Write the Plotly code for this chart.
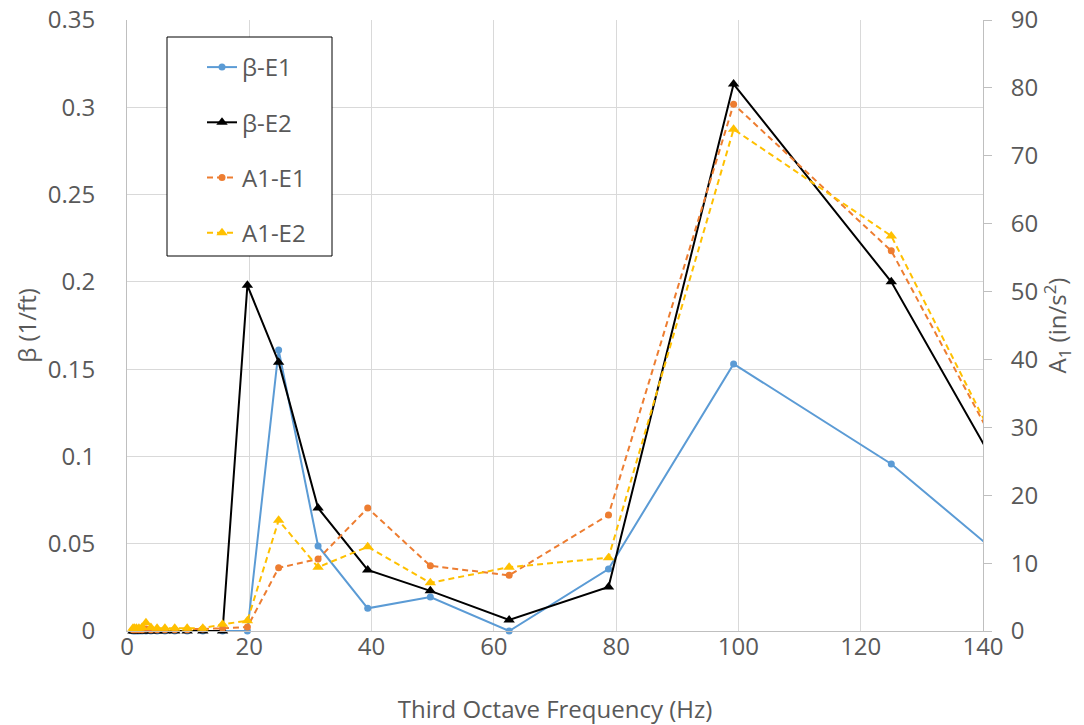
import plotly.graph_objects as go

# Third-octave band centre frequencies (Hz)
freq = [0.98, 1.23, 1.55, 1.95, 2.46, 3.1, 3.91, 4.92, 6.2, 7.81, 9.84, 12.4,
        15.63, 19.69, 24.8, 31.25, 39.37, 49.61, 62.5, 78.75, 99.21, 125.0, 157.5]

beta_e1 = [0, 0, 0, 0, 0, 0, 0, 0, 0, 0, 0, 0,
           0, 0, 0.161, 0.0487, 0.013, 0.0195, 0, 0.0355, 0.153, 0.0957, 0]
beta_e2 = [0, 0, 0, 0, 0, 0, 0, 0, 0, 0, 0, 0,
           0, 0.198, 0.154, 0.0705, 0.035, 0.023, 0.0063, 0.0252, 0.3133, 0.200, 0]
a1_e1 = [0.2, 0.2, 0.2, 0.2, 0.2, 0.3, 0.2, 0.2, 0.2, 0.2, 0.2, 0.3,
         0.4, 0.6, 9.3, 10.6, 18.1, 9.6, 8.2, 17.1, 77.6, 56.0, 1.5]
a1_e2 = [0.4, 0.4, 0.4, 0.4, 0.5, 1.2, 0.5, 0.4, 0.4, 0.4, 0.4, 0.4,
         1.0, 1.5, 16.3, 9.4, 12.4, 7.1, 9.4, 10.8, 73.9, 58.2, 0.2]

names = ["β-E1", "β-E2", "A1-E1", "A1-E2"]

FONT = "Open Sans"
TXT = "#595959"
GRID = "#d9d9d9"
AX = "#bfbfbf"

fig = go.Figure()
fig.add_trace(go.Scatter(x=freq, y=beta_e1, name=names[0], mode="lines+markers",
                         line=dict(color="#5B9BD5", width=2),
                         marker=dict(symbol="circle", size=7, color="#5B9BD5"),
                         legendgroup="g1", cliponaxis=False))
fig.add_trace(go.Scatter(x=freq, y=beta_e2, name=names[1], mode="lines+markers",
                         line=dict(color="#000000", width=2),
                         marker=dict(symbol="triangle-up", size=10, color="#000000"),
                         legendgroup="g2", cliponaxis=False))
fig.add_trace(go.Scatter(x=freq, y=a1_e1, name=names[2], mode="lines+markers", yaxis="y2",
                         line=dict(color="#ED7D31", width=2, dash="6px,4px"),
                         marker=dict(symbol="circle", size=7, color="#ED7D31"),
                         legendgroup="g3", cliponaxis=False))
fig.add_trace(go.Scatter(x=freq, y=a1_e2, name=names[3], mode="lines+markers", yaxis="y2",
                         line=dict(color="#FFC000", width=2, dash="6px,4px"),
                         marker=dict(symbol="triangle-up", size=10, color="#FFC000"),
                         legendgroup="g4", cliponaxis=False))

fig.update_layout(
    width=1084, height=725,
    margin=dict(l=127, r=101, t=20, b=94, autoexpand=False),
    paper_bgcolor="white", plot_bgcolor="white",
    font=dict(family=FONT, size=24, color=TXT),
    xaxis=dict(range=[0, 140], dtick=20, tick0=0, showgrid=True, gridcolor=GRID,
               showline=True, linecolor=AX, linewidth=1, zeroline=False, automargin=False,
               ticks="", ticklabelstandoff=-6, tickfont=dict(size=24, color=TXT),
               title=dict(text="Third Octave Frequency (Hz)", font=dict(size=24, color=TXT),
                          standoff=40)),
    yaxis=dict(range=[0, 0.35], dtick=0.05, tick0=0, showgrid=True, gridcolor=GRID,
               showline=True, linecolor=AX, linewidth=1, zeroline=False, automargin=False,
               ticks="", ticklabelstandoff=26, tickfont=dict(size=24, color=TXT),
               title=dict(text="β (1/ft)", font=dict(size=24, color=TXT), standoff=4)),
    yaxis2=dict(range=[0, 90], dtick=10, tick0=0, overlaying="y", side="right",
                showgrid=False, showline=True, linecolor=AX, linewidth=1, zeroline=False,
                automargin=False,
                ticks="outside", ticklen=8, tickcolor=AX, ticklabelstandoff=14,
                tickfont=dict(size=24, color=TXT),
                title=dict(text="A<sub>1</sub> (in/s<sup>2</sup>)", font=dict(size=24, color=TXT),
                           standoff=10)),
    legend=dict(x=(202 - 127) / 856, y=(631 - 45) / 611, xanchor="left", yanchor="top",
                bgcolor="rgba(0,0,0,0)", borderwidth=0, tracegroupgap=21,
                font=dict(size=24, color=TXT)),
    shapes=[dict(type="rect", xref="paper", yref="paper",
                 x0=(167 - 127) / 856, x1=(332 - 127) / 856,
                 y0=(631 - 256) / 611, y1=(631 - 37) / 611,
                 line=dict(color="black", width=1), fillcolor="white", layer="above")],
)

fig.write_html("out.html")
